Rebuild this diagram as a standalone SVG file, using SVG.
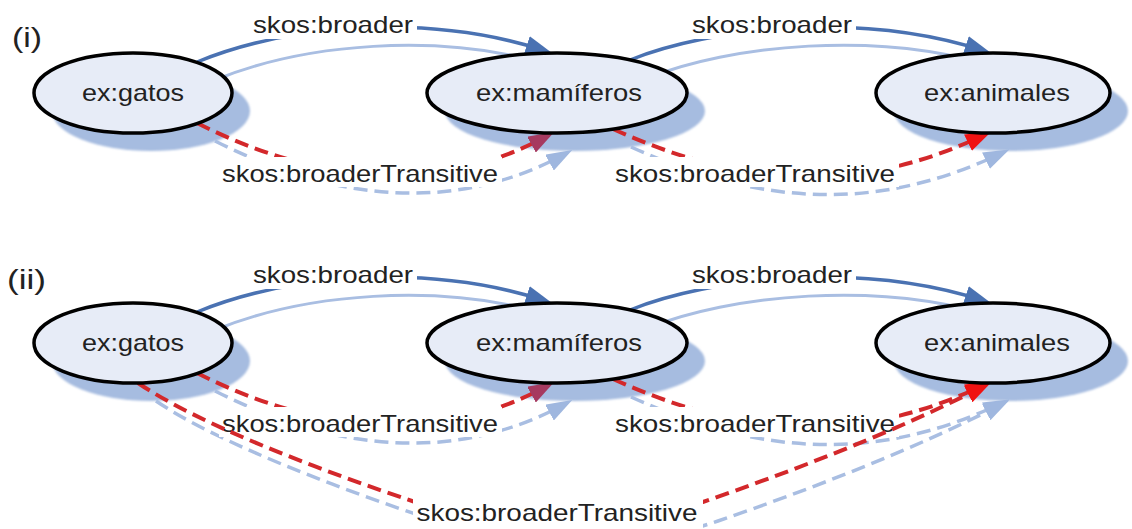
<svg xmlns="http://www.w3.org/2000/svg" width="1132" height="529" viewBox="0 0 1132 529">
<style>
  .txt{font-family:"Liberation Sans",Arial,sans-serif;fill:#222;}
  .lbl{font-size:24px;text-anchor:middle;}
  .node{fill:#e7ecf7;stroke:#000;stroke-width:3.5;}
  .nshadow{fill:#a6bce0;filter:url(#soft);}
  .broader{fill:none;stroke:#4a72b2;stroke-width:3.5;marker-end:url(#ahBlue);}
  .bshadow{fill:none;stroke:#a9bee2;stroke-width:3;marker-end:url(#ahShadow);}
  .trans{fill:none;stroke:#d3282b;stroke-width:4;stroke-dasharray:14 7;}
  .tshadow{fill:none;stroke:#a9bee2;stroke-width:3.5;stroke-dasharray:14 7;marker-end:url(#ahShadow);}
  .bg{fill:#fff;}
</style>
<defs>
  <filter id="soft" x="-10%" y="-10%" width="120%" height="120%"><feGaussianBlur stdDeviation="1.2"/></filter>
  <marker id="ahBlue" viewBox="0 0 26 18" refX="20" refY="9" markerWidth="26" markerHeight="18" orient="auto" markerUnits="userSpaceOnUse"><path d="M0,0 L26,9 L0,18 z" fill="#4a72b2"/></marker>
  <marker id="ahShadow" viewBox="0 0 26 18" refX="20" refY="9" markerWidth="26" markerHeight="18" orient="auto" markerUnits="userSpaceOnUse"><path d="M0,0 L26,9 L0,18 z" fill="#9fb7df"/></marker>
  <marker id="ahMauve" viewBox="0 0 26 18" refX="20" refY="9" markerWidth="26" markerHeight="18" orient="auto" markerUnits="userSpaceOnUse"><path d="M0,0 L26,9 L0,18 z" fill="#a63a60"/></marker>
  <marker id="ahRed" viewBox="0 0 26 18" refX="20" refY="9" markerWidth="26" markerHeight="18" orient="auto" markerUnits="userSpaceOnUse"><path d="M0,0 L26,9 L0,18 z" fill="#f01212"/></marker>
</defs>
<rect width="1132" height="529" fill="#fff"/>

<text class="txt" x="12" y="47" font-size="28" textLength="30" lengthAdjust="spacingAndGlyphs">(i)</text>
<text class="txt" x="7" y="289" font-size="28" textLength="39" lengthAdjust="spacingAndGlyphs">(ii)</text>

<!-- shadows -->
<g id="shadows">
  <ellipse class="nshadow" cx="151" cy="111" rx="99" ry="40"/>
  <ellipse class="nshadow" cx="575" cy="111" rx="130" ry="40"/>
  <ellipse class="nshadow" cx="1011" cy="111" rx="117" ry="40"/>
  <ellipse class="nshadow" cx="151" cy="361" rx="99" ry="40"/>
  <ellipse class="nshadow" cx="575" cy="361" rx="130" ry="40"/>
  <ellipse class="nshadow" cx="1011" cy="361" rx="117" ry="40"/>
  <g transform="translate(18,18)">
    <path class="bshadow" d="M197,62 C280,28 420,10 546,51"/>
    <path class="bshadow" d="M630,60 C710,28 860,10 985,51"/>
    <path class="tshadow" d="M197,123 C320,185 440,195 549,135"/>
    <path class="tshadow" d="M613,129 C743,188 860,195 986,134"/>
    <path class="bshadow" d="M197,312 C280,278 420,260 546,301"/>
    <path class="bshadow" d="M630,310 C710,278 860,260 985,301"/>
    <path class="tshadow" d="M197,373 C320,435 440,445 549,385"/>
    <path class="tshadow" d="M613,379 C743,438 860,445 986,384"/>
    <path class="tshadow" d="M138,383 C200,425 320,470 415,502 C510,534 610,534 700,503 C790,472 900,430 986,385"/>
  </g>
</g>

<!-- connectors -->
<g id="connectors">
  <path class="broader" d="M197,62 C280,28 420,10 546,51"/>
  <path class="broader" d="M630,60 C710,28 860,10 985,51"/>
  <path class="trans" marker-end="url(#ahMauve)" d="M197,123 C320,185 440,195 549,135"/>
  <path class="trans" marker-end="url(#ahRed)" d="M613,129 C743,188 860,195 986,134"/>
  <path class="broader" d="M197,312 C280,278 420,260 546,301"/>
  <path class="broader" d="M630,310 C710,278 860,260 985,301"/>
  <path class="trans" marker-end="url(#ahMauve)" d="M197,373 C320,435 440,445 549,385"/>
  <path class="trans" marker-end="url(#ahRed)" d="M613,379 C743,438 860,445 986,384"/>

  <g id="label-b1"><rect class="bg" x="249" y="12" width="168" height="27"/><text class="txt lbl" x="333" y="33" textLength="160" lengthAdjust="spacingAndGlyphs">skos:broader</text></g>
  <g id="label-b2"><rect class="bg" x="688" y="12" width="168" height="27"/><text class="txt lbl" x="772" y="33" textLength="160" lengthAdjust="spacingAndGlyphs">skos:broader</text></g>
  <g id="label-t1"><rect class="bg" x="219" y="157" width="283" height="30"/><text class="txt lbl" x="360" y="182" textLength="276" lengthAdjust="spacingAndGlyphs">skos:broaderTransitive</text></g>
  <g id="label-t2"><rect class="bg" x="612" y="157" width="287" height="30"/><text class="txt lbl" x="755" y="182" textLength="280" lengthAdjust="spacingAndGlyphs">skos:broaderTransitive</text></g>
  <g id="label-b3"><rect class="bg" x="249" y="262" width="168" height="27"/><text class="txt lbl" x="333" y="283" textLength="160" lengthAdjust="spacingAndGlyphs">skos:broader</text></g>
  <g id="label-b4"><rect class="bg" x="688" y="262" width="168" height="27"/><text class="txt lbl" x="772" y="283" textLength="160" lengthAdjust="spacingAndGlyphs">skos:broader</text></g>
  <g id="label-t3"><rect class="bg" x="219" y="407" width="283" height="30"/><text class="txt lbl" x="360" y="432" textLength="276" lengthAdjust="spacingAndGlyphs">skos:broaderTransitive</text></g>
  <g id="label-t4"><rect class="bg" x="612" y="407" width="287" height="30"/><text class="txt lbl" x="755" y="432" textLength="280" lengthAdjust="spacingAndGlyphs">skos:broaderTransitive</text></g>

  <path class="trans" marker-end="url(#ahRed)" d="M138,383 C200,425 320,470 415,502 C510,534 610,534 700,503 C790,472 900,430 986,385"/>
  <g id="label-t5"><rect class="bg" x="413" y="499" width="290" height="30"/><text class="txt lbl" x="557" y="521" textLength="281" lengthAdjust="spacingAndGlyphs">skos:broaderTransitive</text></g>
</g>

<!-- nodes -->
<g id="n-gatos-1"><ellipse class="node" cx="133" cy="93" rx="99" ry="40"/><text class="txt lbl" x="133" y="101" textLength="102" lengthAdjust="spacingAndGlyphs">ex:gatos</text></g>
<g id="n-mamiferos-1"><ellipse class="node" cx="557" cy="93" rx="130" ry="40"/><text class="txt lbl" x="559" y="101" textLength="166" lengthAdjust="spacingAndGlyphs">ex:mamíferos</text></g>
<g id="n-animales-1"><ellipse class="node" cx="993" cy="93" rx="117" ry="40"/><text class="txt lbl" x="997" y="101" textLength="146" lengthAdjust="spacingAndGlyphs">ex:animales</text></g>
<g id="n-gatos-2"><ellipse class="node" cx="133" cy="343" rx="99" ry="40"/><text class="txt lbl" x="133" y="351" textLength="102" lengthAdjust="spacingAndGlyphs">ex:gatos</text></g>
<g id="n-mamiferos-2"><ellipse class="node" cx="557" cy="343" rx="130" ry="40"/><text class="txt lbl" x="559" y="351" textLength="166" lengthAdjust="spacingAndGlyphs">ex:mamíferos</text></g>
<g id="n-animales-2"><ellipse class="node" cx="993" cy="343" rx="117" ry="40"/><text class="txt lbl" x="997" y="351" textLength="146" lengthAdjust="spacingAndGlyphs">ex:animales</text></g>
</svg>
